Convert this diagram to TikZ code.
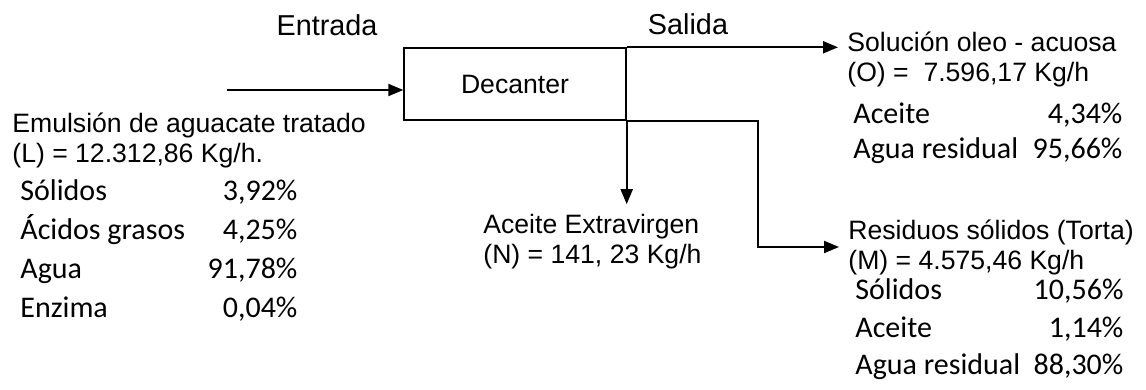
\documentclass[tikz,border=0pt]{standalone}
\usepackage{fontspec}
\setmainfont{Liberation Sans}
\newfontfamily\calibri{Carlito}
\usetikzlibrary{arrows.meta, positioning}

\begin{document}
\begin{tikzpicture}[x=0.5pt, y=-0.5pt,
        proc/.style={rectangle, draw, line width=0.7pt, minimum width=111pt, minimum height=36pt, inner sep=0pt, font=\fontsize{13.3}{15}\selectfont},
        stream/.style={align=left, inner sep=0pt, anchor=west, font=\fontsize{13.3}{15}\selectfont},
        head/.style={inner sep=0pt, font=\fontsize{14.4}{17}\selectfont},
        comp/.style={inner sep=0pt, anchor=west},
        flow/.style={-{Triangle[length=7.5pt, width=6pt]}, line width=1pt}
    ]
        \useasboundingbox (0,0) rectangle (1146,390);

        % Headings
        \node[head] (entrada) at (327,25) {Entrada};
        \node[head] (salida) at (688,24) {Salida};

        % Decanter
        \node[proc] (dec) at (515,84) {Decanter};

        % Feed
        \node[stream] (feed) at (12,140) {Emulsión de aguacate tratado\\(L) = 12.312,86 Kg/h.};
        \node[comp, font=\calibri\fontsize{15}{19.5}\selectfont] (feedcomp) at (20,251.5) {%
            \begin{tabular*}{138.5pt}{@{}l@{\extracolsep{\fill}}r@{}}
                Sólidos & 3,92\%\\
                Ácidos grasos & 4,25\%\\
                Agua & 91,78\%\\
                Enzima & 0,04\%
            \end{tabular*}};

        % Oil-water solution
        \node[stream] (sol) at (847,59) {Solución oleo - acuosa\\(O) =\ \ 7.596,17 Kg/h};
        \node[comp, font=\calibri\fontsize{15}{17.5}\selectfont] (solcomp) at (853,134.5) {%
            \begin{tabular*}{134.5pt}{@{}l@{\extracolsep{\fill}}r@{}}
                Aceite & 4,34\%\\
                Agua residual & 95,66\%
            \end{tabular*}};

        % Extra virgin oil
        \node[stream] (ext) at (483,242) {Aceite Extravirgen\\(N) = 141, 23 Kg/h};

        % Solid residue
        \node[stream] (res) at (848,247) {Residuos sólidos (Torta)\\(M) = 4.575,46 Kg/h};
        \node[comp, font=\calibri\fontsize{15}{18.75}\selectfont] (rescomp) at (855,329.5) {%
            \begin{tabular*}{134pt}{@{}l@{\extracolsep{\fill}}r@{}}
                Sólidos & 10,56\%\\
                Aceite & 1,14\%\\
                Agua residual & 88,30\%
            \end{tabular*}};

        % Arrows
        \coordinate (in) at (227,90);
        \draw[flow] (in) -- (in -| dec.west);
        \draw[flow, shorten >=4.5pt] (dec.north east) -- (dec.north east -| sol.west);
        \draw[flow, shorten >=5pt] (dec.south east) -- (dec.south east |- ext.north);
        \draw[flow, shorten >=4.5pt] (dec.south east) -- ++(131,0) |- (res.west);
    \end{tikzpicture}
\end{document}
